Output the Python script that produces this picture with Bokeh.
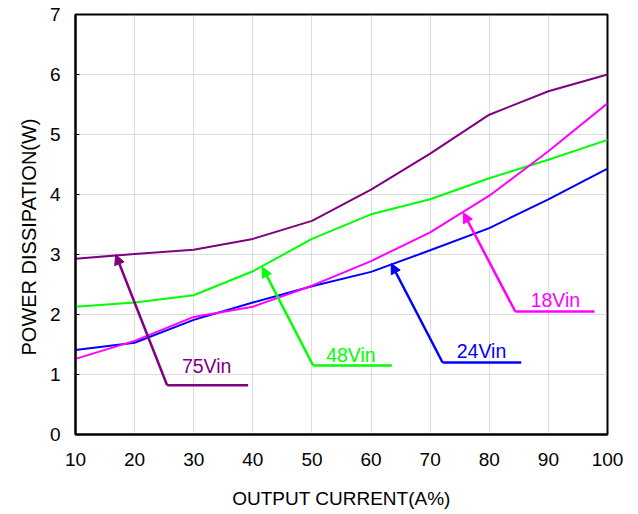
from bokeh.plotting import figure
from bokeh.models import Range1d, Label, Arrow, NormalHead, FixedTicker, Title
from bokeh.embed import file_html
from bokeh.resources import INLINE

# ---- data ----
current = [10, 20, 30, 40, 50, 60, 70, 80, 90, 100]
vin75 = [2.93, 3.01, 3.08, 3.26, 3.56, 4.08, 4.68, 5.33, 5.72, 6.00]
vin48 = [2.13, 2.20, 2.32, 2.72, 3.26, 3.67, 3.92, 4.27, 4.58, 4.91]
vin24 = [1.41, 1.53, 1.91, 2.20, 2.47, 2.71, 3.07, 3.44, 3.92, 4.43]
vin18 = [1.26, 1.56, 1.96, 2.13, 2.48, 2.89, 3.37, 3.98, 4.72, 5.52]

series_names = ["75Vin", "48Vin", "24Vin", "18Vin"]
series_colors = ["#800080", "#00FF00", "#0000FF", "#FF00FF"]

# callout leaders: arrow tip, elbow, end of horizontal, label position
tip_x = [16.8, 41.6, 63.4, 75.6]
tip_y = [3.00, 2.79, 2.85, 3.70]
elbow_x = [25.5, 50.2, 72.1, 84.4]
elbow_y = [0.82, 1.15, 1.20, 2.05]
end_x = [39.2, 63.5, 85.4, 97.8]
label_x = [28.0, 52.4, 74.5, 87.0]
label_y = [1.15, 1.33, 1.40, 2.24]

x_ticks = [10, 20, 30, 40, 50, 60, 70, 80, 90, 100]
y_ticks = [0, 1, 2, 3, 4, 5, 6, 7]

x_title = "OUTPUT CURRENT(A%)"
y_title = "POWER DISSIPATION(W)"

FONT = "Liberation Sans"

p = figure(width=630, height=511, output_backend="svg", toolbar_location=None,
           x_range=Range1d(10, 100), y_range=Range1d(0, 7))
p.min_border_left = 75
p.min_border_right = 23
p.min_border_top = 14
p.min_border_bottom = 74

p.outline_line_color = "black"
p.outline_line_width = 2
p.background_fill_color = "white"
p.border_fill_color = "white"

p.xaxis.ticker = FixedTicker(ticks=x_ticks)
p.yaxis.ticker = FixedTicker(ticks=y_ticks)
for ax in (p.xaxis, p.yaxis):
    ax.axis_line_color = "black"
    ax.axis_line_width = 2
    ax.major_label_text_font = FONT
    ax.major_label_text_font_size = "19px"
    ax.major_label_text_color = "black"
    ax.minor_tick_line_color = None
p.xaxis.major_tick_line_color = None
p.xaxis.major_label_standoff = 12
p.xaxis.axis_label = x_title
p.xaxis.axis_label_text_font = FONT
p.xaxis.axis_label_text_font_size = "19px"
p.xaxis.axis_label_text_font_style = "normal"
p.xaxis.axis_label_text_color = "black"
p.xaxis.axis_label_standoff = 19

p.yaxis.major_tick_in = 4
p.yaxis.major_tick_out = 0
p.yaxis.major_tick_line_color = "black"
p.yaxis.major_tick_line_width = 1
p.yaxis.major_label_standoff = 15

p.add_layout(Title(text=y_title, align="left", offset=79, text_font=FONT,
                   text_font_size="20px", text_font_style="normal",
                   text_color="black", standoff=13), "left")

p.grid.grid_line_color = "#b8b8b8"
p.grid.grid_line_dash = "1 1"
p.grid.grid_line_width = 1

all_series = [vin75, vin48, vin24, vin18]
for vals, col in zip(all_series, series_colors):
    p.line(current, vals, line_color=col, line_width=2)

for i, col in enumerate(series_colors):
    p.line([elbow_x[i], end_x[i]], [elbow_y[i], elbow_y[i]], line_color=col, line_width=2.5)
    p.add_layout(Arrow(end=NormalHead(size=10, fill_color=col, line_color=col, line_width=1),
                       x_start=elbow_x[i], y_start=elbow_y[i], x_end=tip_x[i], y_end=tip_y[i],
                       line_color=col, line_width=2.5))
    p.add_layout(Label(x=label_x[i], y=label_y[i], text=series_names[i], text_color=col,
                       text_font=FONT, text_font_size="19.5px", text_baseline="middle",
                       text_align="left"))

open("out.html", "w").write(file_html(p, INLINE))
